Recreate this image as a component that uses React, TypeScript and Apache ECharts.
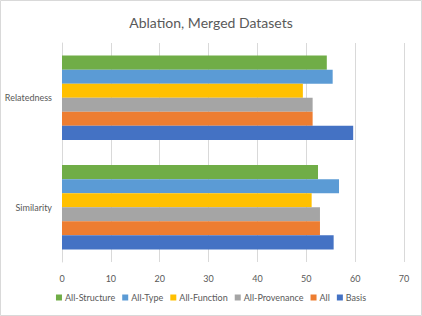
import React, { useEffect, useRef } from "react";
import * as echarts from "echarts";

const categories = ["Similarity", "Relatedness"];
const seriesNames = ["All-Structure", "All-Type", "All-Function", "All-Provenance", "All", "Basis"];
const allStructure = [52.4, 54.2];
const allType = [56.7, 55.4];
const allFunction = [51.1, 49.3];
const allProvenance = [52.8, 51.3];
const allVals = [52.8, 51.3];
const basis = [55.6, 59.6];
const legendOrder = ["All-Structure", "All-Type", "All-Function", "All-Provenance", "All", "Basis"];
const colors = ["#70AD47", "#5B9BD5", "#FFC000", "#A5A5A5", "#ED7D31", "#4472C4"];

export default function App() {
  const ref = useRef<HTMLDivElement>(null);
  useEffect(() => {
    if (!ref.current) return;
    const chart = echarts.init(ref.current, null, { renderer: "svg" });
    const values = [allStructure, allType, allFunction, allProvenance, allVals, basis];
    const font = "Lato, 'Open Sans', sans-serif";
    chart.setOption({
      animation: false,
      textStyle: { fontFamily: font },
      title: {
        text: "Ablation, Merged Datasets",
        left: "center",
        top: 10,
        textStyle: { fontSize: 14, fontWeight: "normal", color: "#595959", fontFamily: font },
      },
      legend: {
        data: legendOrder,
        bottom: 9,
        left: "center",
        itemWidth: 6,
        itemHeight: 6,
        itemGap: 7,
        icon: "rect",
        textStyle: { fontSize: 9, color: "#595959", fontFamily: font, padding: [0, 0, 0, -2] },
      },
      grid: { left: 62, right: 18, top: 43, bottom: 54, containLabel: false },
      xAxis: {
        type: "value",
        min: 0,
        max: 70,
        interval: 10,
        axisLine: { show: false },
        axisTick: { show: false },
        splitLine: { lineStyle: { color: "#D9D9D9", width: 1 } },
        axisLabel: { fontSize: 9, color: "#595959", margin: 12, fontFamily: font },
      },
      yAxis: {
        type: "category",
        data: categories,
        axisLine: { show: true, lineStyle: { color: "#D9D9D9" } },
        axisTick: { show: false },
        axisLabel: { fontSize: 9, color: "#595959", margin: 10, fontFamily: font },
      },
      series: seriesNames.map((name, i) => ({
        name,
        type: "bar",
        data: values[i],
        itemStyle: { color: colors[i] },
        barGap: "0%",
        barCategoryGap: "23%",
      })),
      graphic: [
        {
          type: "rect",
          shape: { x: 0.5, y: 0.5, width: 421, height: 315 },
          style: { fill: "none", stroke: "#D9D9D9", lineWidth: 1 },
          silent: true,
        },
      ],
    });
    return () => chart.dispose();
  }, []);
  return <div ref={ref} style={{ width: 422, height: 316, position: "absolute", left: 0, top: 0, background: "#fff" }} />;
}
